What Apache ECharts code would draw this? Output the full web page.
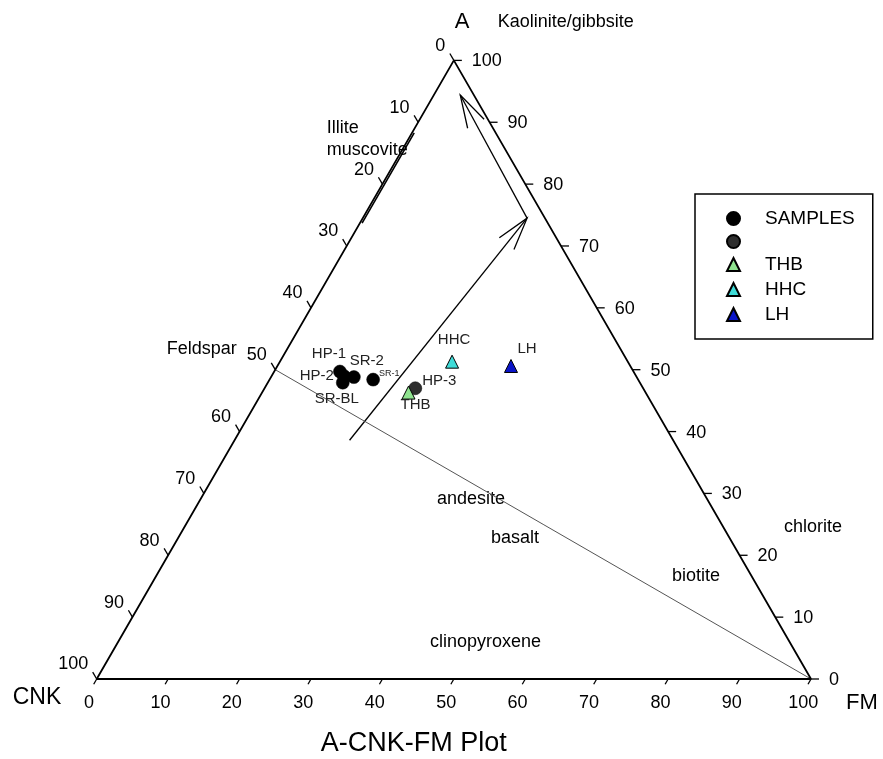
<!DOCTYPE html>
<html>
<head>
<meta charset="utf-8">
<script src="https://cdn.jsdelivr.net/npm/echarts@6/dist/echarts.min.js"></script>
<style>
html, body { margin: 0; padding: 0; background: #fff; }
#chart { width: 883px; height: 759px; }
</style>
</head>
<body>
<div id="chart"></div>
<script>
// Compositions are percentages given as [A, CNK, FM]
const tickValues = [0, 10, 20, 30, 40, 50, 60, 70, 80, 90, 100];

const sampleNames = ['HP-1', 'HP-2', 'SR-2', 'SR-BL', 'SR-1'];
const sampleComp = [[49.7, 41.1, 9.2], [49.0, 40.9, 10.1], [48.8, 39.6, 11.6], [47.9, 41.6, 10.5], [48.4, 37.1, 14.5]];
const sample2Names = ['HP-3'];
const sample2Comp = [[47.0, 31.9, 21.1]];
const thbComp = [[46.3, 33.2, 20.5]];
const hhcComp = [[51.3, 24.6, 24.1]];
const lhComp = [[50.6, 16.7, 32.7]];

const frameComp = [[100, 0, 0], [0, 100, 0], [0, 0, 100], [100, 0, 0]];
const feldsparLine = [[50, 50, 0], [0, 0, 100]];
const illiteLine = [[73.7, 26.0, 0.3], [88.3, 11.4, 0.3]];
const weatheringTrend = [[38.6, 45.3, 16.1], [74.5, 2.5, 23.0]];
const kaoliniteTrend = [[74.5, 2.5, 23.0], [94.4, 1.9, 3.7]];

const FONT = '"Liberation Sans", Arial, sans-serif';
const H = Math.sqrt(3) / 2;

// A-CNK-FM composition -> plane coordinates (FM to the right, A upwards)
function toXY(c) {
  const s = c[0] + c[1] + c[2];
  const a = c[0] / s * 100, f = c[2] / s * 100;
  return [f + a / 2, a * H];
}

// Label placement around each symbol (pixels, relative to symbol centre)
const labelPlacement = {
  'HP-1': [-11, -18], 'HP-2': [-27, 0], 'SR-2': [13, -16], 'SR-BL': [-6, 16],
  'SR-1': [16, -6], 'HP-3': [24, -7], 'THB': [7, 12], 'HHC': [2, -22], 'LH': [16, -17]
};

function points(comps, names) {
  return comps.map((c, i) => {
    const nm = names[i];
    const off = labelPlacement[nm] || [0, 0];
    return {
      name: nm,
      value: toXY(c),
      label: { offset: off, fontSize: nm === 'SR-1' ? 9 : 15 }
    };
  });
}

const pointLabel = {
  show: true, position: 'inside', formatter: '{b}',
  color: '#222', fontFamily: FONT, fontSize: 15
};

// Axis ticks and their labels on all three sides
function renderTicks(params, api) {
  const v = api.value(0);
  const kids = [];
  const stroke = { stroke: '#000', lineWidth: 1.3 };
  // bottom: FM
  const b = api.coord(toXY([0, 100 - v, v]));
  kids.push({ type: 'line', shape: { x1: b[0], y1: b[1], x2: b[0] - 3, y2: b[1] + 5.2 }, style: stroke });
  kids.push({ type: 'text', x: b[0] - 7.7, y: b[1] + 24,
    style: { text: String(v), fill: '#000', fontSize: 18, fontFamily: FONT, align: 'center', verticalAlign: 'middle' } });
  // right: A
  const r = api.coord(toXY([v, 0, 100 - v]));
  kids.push({ type: 'line', shape: { x1: r[0], y1: r[1], x2: r[0] + 8, y2: r[1] }, style: stroke });
  kids.push({ type: 'text', x: r[0] + 18, y: r[1] + 1,
    style: { text: String(v), fill: '#000', fontSize: 18, fontFamily: FONT, align: 'left', verticalAlign: 'middle' } });
  // left: CNK
  const l = api.coord(toXY([100 - v, v, 0]));
  kids.push({ type: 'line', shape: { x1: l[0], y1: l[1], x2: l[0] - 4, y2: l[1] - 6.9 }, style: stroke });
  kids.push({ type: 'text', x: l[0] - 8.5, y: l[1] - 14.5,
    style: { text: String(v), fill: '#000', fontSize: 18, fontFamily: FONT, align: 'right', verticalAlign: 'middle' } });
  return { type: 'group', children: kids };
}

// Straight trend with an open arrow head at its end
function renderArrow(params, api) {
  const p1 = api.coord([api.value(0), api.value(1)]);
  const p2 = api.coord([api.value(2), api.value(3)]);
  const dx = p1[0] - p2[0], dy = p1[1] - p2[1];
  const len = Math.hypot(dx, dy);
  const ux = dx / len, uy = dy / len;
  const wing = 34, ang = 16 * Math.PI / 180;
  const cs = Math.cos(ang), sn = Math.sin(ang);
  const w1 = [p2[0] + wing * (ux * cs - uy * sn), p2[1] + wing * (ux * sn + uy * cs)];
  const w2 = [p2[0] + wing * (ux * cs + uy * sn), p2[1] + wing * (-ux * sn + uy * cs)];
  const style = { stroke: '#000', lineWidth: 1.3, fill: null };
  return {
    type: 'group',
    children: [
      { type: 'line', shape: { x1: p1[0], y1: p1[1], x2: p2[0], y2: p2[1] }, style },
      { type: 'polyline', shape: { points: [w1, p2, w2] }, style }
    ]
  };
}

function lineData(comps) { return comps.map(toXY); }
function segment(comps) { const a = toXY(comps[0]), b = toXY(comps[1]); return [a[0], a[1], b[0], b[1]]; }

const textStyle = (size) => ({ fill: '#000', fontSize: size, fontFamily: FONT, verticalAlign: 'middle' });
function txt(s, x, y, size, align) {
  return { type: 'text', x, y, style: Object.assign(textStyle(size), { text: s, align: align || 'left' }) };
}

const chart = echarts.init(document.getElementById('chart'), null, { renderer: 'canvas' });
chart.setOption({
  animation: false,
  backgroundColor: '#fff',
  grid: { left: 96.7, right: 72, top: 60.4, bottom: 80 },
  xAxis: { type: 'value', min: 0, max: 100, show: false },
  yAxis: { type: 'value', min: 0, max: 100 * H, show: false },
  legend: {
    orient: 'vertical', left: 695, top: 194,
    padding: [15, 18, 15, 31],
    itemWidth: 13, itemHeight: 13, itemGap: 6,
    borderColor: '#000', borderWidth: 1.5, backgroundColor: '#fff',
    textStyle: { fontSize: 19, fontFamily: FONT, color: '#000', lineHeight: 19, padding: [0, 0, 0, 20] },
    data: ['SAMPLES', 'SAMPLES-2', 'THB', 'HHC', 'LH'],
    formatter: (n) => (n === 'SAMPLES-2' ? '' : n)
  },
  graphic: [
    txt('A', 462, 21.5, 22, 'center'),
    txt('Kaolinite/gibbsite', 497.7, 22, 18),
    txt('Illite', 326.7, 128.3, 18),
    txt('muscovite', 326.7, 150, 18),
    txt('Feldspar', 166.7, 349, 18),
    txt('andesite', 437, 499, 18),
    txt('basalt', 491, 538, 18),
    txt('biotite', 672, 576, 18),
    txt('chlorite', 813, 527, 18, 'center'),
    txt('clinopyroxene', 430, 642, 18),
    txt('CNK', 12.7, 697.5, 23),
    txt('FM', 846, 702.5, 22),
    txt('A-CNK-FM Plot', 320.7, 744, 27)
  ],
  series: [
    {
      type: 'line', name: 'frame', data: lineData(frameComp), clip: false, silent: true,
      symbol: 'none', lineStyle: { color: '#000', width: 1.8 }, z: 3
    },
    {
      type: 'custom', name: 'ticks', data: tickValues.map(v => [v]), clip: false, silent: true,
      renderItem: renderTicks, z: 3
    },
    {
      type: 'line', name: 'feldspar', data: lineData(feldsparLine), clip: false, silent: true,
      symbol: 'none', lineStyle: { color: '#555', width: 1 }, z: 2
    },
    {
      type: 'line', name: 'illite', data: lineData(illiteLine), clip: false, silent: true,
      symbol: 'none', lineStyle: { color: '#000', width: 1.6 }, z: 2
    },
    {
      type: 'custom', name: 'trends', data: [segment(weatheringTrend), segment(kaoliniteTrend)],
      clip: false, silent: true, renderItem: renderArrow, z: 2
    },
    {
      type: 'scatter', name: 'SAMPLES', data: points(sampleComp, sampleNames),
      symbol: 'circle', symbolSize: 13,
      itemStyle: { color: '#000', borderColor: '#000', borderWidth: 0.5, opacity: 1 },
      label: pointLabel, z: 5
    },
    {
      type: 'scatter', name: 'SAMPLES-2', data: points(sample2Comp, sample2Names),
      symbol: 'circle', symbolSize: 13,
      itemStyle: { color: '#2e2e2e', borderColor: '#000', borderWidth: 0.5, opacity: 1 },
      label: pointLabel, z: 5
    },
    {
      type: 'scatter', name: 'THB', data: points(thbComp, ['THB']),
      symbol: 'triangle', symbolSize: 13,
      itemStyle: { color: '#8fe38f', borderColor: '#000', borderWidth: 1, opacity: 1 },
      label: pointLabel, z: 6
    },
    {
      type: 'scatter', name: 'HHC', data: points(hhcComp, ['HHC']),
      symbol: 'triangle', symbolSize: 13,
      itemStyle: { color: '#3fdcd8', borderColor: '#000', borderWidth: 1, opacity: 1 },
      label: pointLabel, z: 6
    },
    {
      type: 'scatter', name: 'LH', data: points(lhComp, ['LH']),
      symbol: 'triangle', symbolSize: 13,
      itemStyle: { color: '#0a14c8', borderColor: '#000', borderWidth: 1, opacity: 1 },
      label: pointLabel, z: 6
    }
  ]
});
</script>
</body>
</html>
